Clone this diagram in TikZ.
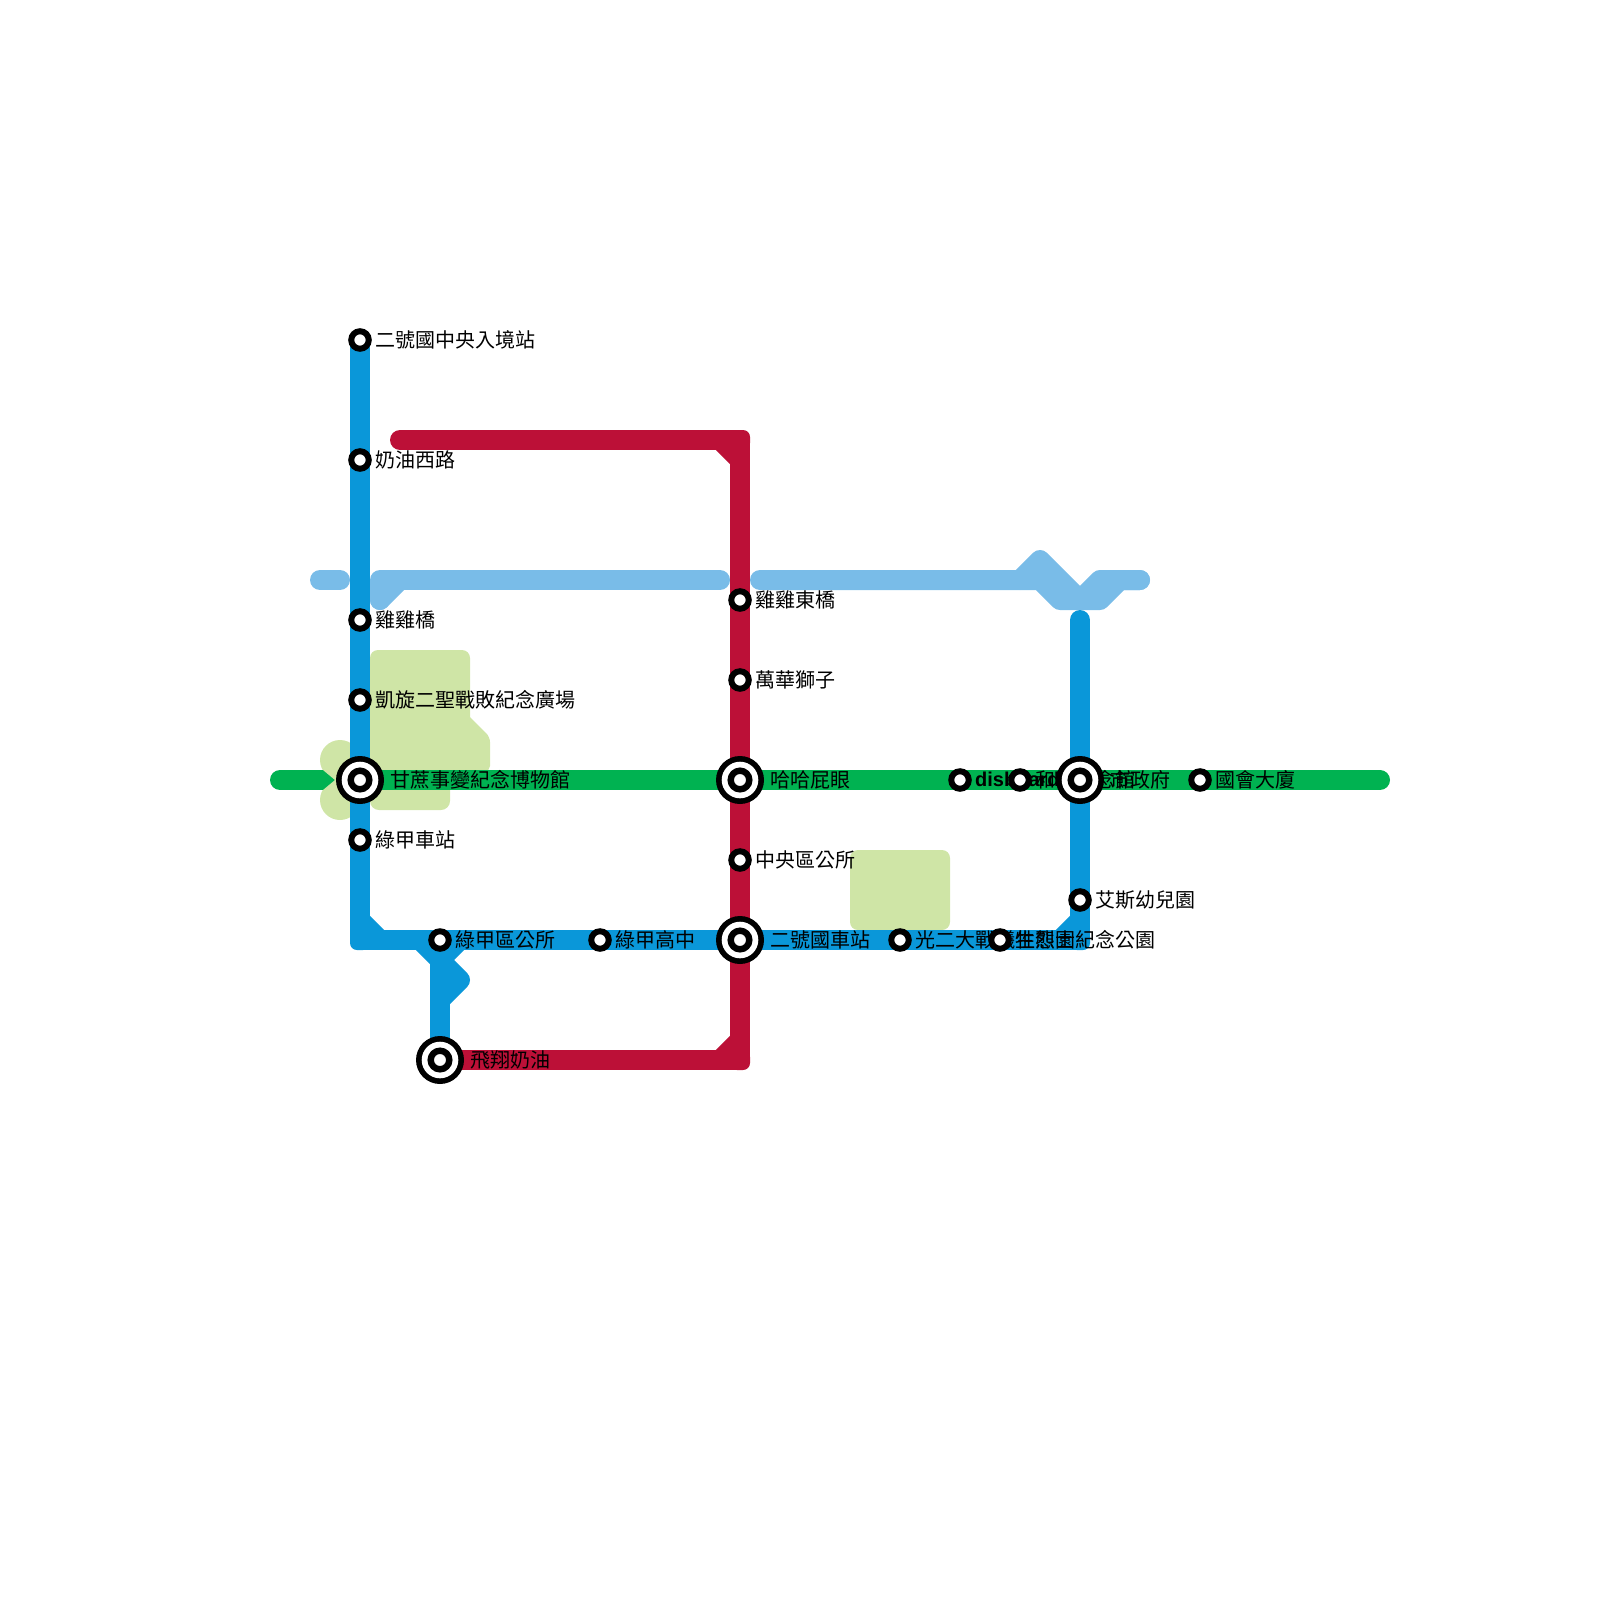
\documentclass[tikz,border=0pt]{standalone}
\usepackage{fontspec}
\setmainfont{Noto Sans CJK TC}
\newfontfamily\latinbold{Liberation Sans}
\definecolor{lineblue}{HTML}{0A97D9}
\definecolor{linered}{HTML}{BC1037}
\definecolor{linegreen}{HTML}{00B251}
\definecolor{linesky}{HTML}{79BCE8}
\definecolor{parkgreen}{HTML}{CFE5A6}
\tikzset{
  metro/.style={line width=20pt,line cap=round,line join=round},
  stub/.style={line width=20pt,line cap=butt,line join=miter},
  smallstn/.style={circle,fill=white,draw=black,line width=6pt,minimum size=17.5pt,inner sep=0pt,outer sep=0pt},
  lab/.style={anchor=base west,inner sep=0pt,font=\fontsize{20pt}{20pt}\selectfont,text=black},
}
\newcommand{\bigstn}[2]{%
  \node[circle,fill=black,minimum size=48pt,inner sep=0pt,outer sep=0pt] (#2o) at (#1) {};
  \node[circle,fill=white,minimum size=36.6pt,inner sep=0pt,outer sep=0pt] (#2w) at (#1) {};
  \node[smallstn,line width=6.4pt,minimum size=18.6pt] (#2i) at (#1) {};
}
\begin{document}
\begin{tikzpicture}[x=1pt,y=-1pt]
\useasboundingbox (0,0) rectangle (1600,1600);
% stations
\coordinate (s1) at (360,340);
\coordinate (s2) at (360,460);
\coordinate (s3) at (360,620);
\coordinate (s4) at (360,700);
\coordinate (s5) at (360,780);
\coordinate (s6) at (360,840);
\coordinate (s7) at (440,940);
\coordinate (s8) at (600,940);
\coordinate (s9) at (740,940);
\coordinate (s10) at (900,940);
\coordinate (s11) at (1000,940);
\coordinate (s12) at (1080,900);
\coordinate (s13) at (1080,780);
\coordinate (s14) at (960,780);
\coordinate (s15) at (1020,780);
\coordinate (s16) at (1200,780);
\coordinate (s17) at (740,600);
\coordinate (s18) at (740,680);
\coordinate (s19) at (740,780);
\coordinate (s20) at (740,860);
\coordinate (s21) at (440,1060);
% parks
\fill[parkgreen,rounded corners=8pt] (370,650) rectangle (470,786);
\fill[parkgreen,rounded corners=5pt] (450,697) -- (490,737) -- (490,771) -- (450,771) -- cycle;
\fill[parkgreen,rounded corners=9pt] (370,772) rectangle (450,810);
\fill[parkgreen] (340,760) circle (20);
\fill[parkgreen] (340,800) circle (20);
\fill[parkgreen,rounded corners=8pt] (850,850) rectangle (950,930);
% green line
\draw[metro,linegreen] (280,780) -- (1380,780);
\fill[parkgreen] (323,770) -- (335,780) -- (323,790) -- (345,790) -- (345,770) -- cycle;
% sky line
\draw[metro,linesky] (320,580) -- (340,580);
\draw[metro,linesky] (380,600) -- (380,580) -- (720,580);
\draw[metro,linesky] (400,580) -- (380,600);
\draw[metro,linesky] (760,580) -- (1040,580) -- (1060,600) -- (1100,600) -- (1120,580) -- (1140,580);
\draw[metro,linesky] (1020,580) -- (1040,560) -- (1080,600) -- (1100,580) -- (1140,580);
% red line
\fill[linered,rounded corners=7pt] (730,430) rectangle (750,450);
\fill[linered,rounded corners=7pt] (730,1050) rectangle (750,1070);
\draw[metro,linered] (400,440) -- (720,440);
\draw[stub,linered] (710,440) -- (740,440);
\draw[stub,linered] (720,440) -- (740,460);
\draw[stub,linered] (740,440) -- (740,1060);
\draw[stub,linered] (740,1040) -- (720,1060);
\draw[stub,linered] (740,1060) -- (s21);
% blue line
\fill[lineblue,rounded corners=7pt] (350,930) rectangle (370,950);
\fill[lineblue,rounded corners=7pt] (1070,930) rectangle (1090,950);
\draw[stub,lineblue] (s1) -- (360,940);
\draw[stub,lineblue] (360,920) -- (380,940);
\draw[stub,lineblue] (360,940) -- (1080,940);
\draw[stub,lineblue] (1080,920) -- (1060,940);
\draw[stub,lineblue] (1080,940) -- (s12);
\draw[metro,lineblue] (s12) -- (1080,620);
\draw[stub,lineblue] (420,940) -- (440,960);
\draw[stub,lineblue] (460,940) -- (440,960);
\draw[metro,lineblue] (440,960) -- (460,980) -- (440,1000);
\draw[stub,lineblue] (440,950) -- (s21);
% red over blue at the crossing
\draw[stub,linered] (s19) -- (s9);
\draw[stub,linered] (s9) -- (740,1000);
% labels
\node[lab] (l1) at (375,347.6) {二號國中央入境站};
\node[lab] (l2) at (375,467.6) {奶油西路};
\node[lab] (l3) at (375,627.6) {雞雞橋};
\node[lab] (l4) at (375,707.6) {凱旋二聖戰敗紀念廣場};
\node[lab] (l5) at (390,787.6) {甘蔗事變紀念博物館};
\node[lab] (l6) at (375,847.6) {綠甲車站};
\node[lab] (l7) at (455,947.6) {綠甲區公所};
\node[lab] (l8) at (615,947.6) {綠甲高中};
\node[lab] (l9) at (770,947.6) {二號國車站};
\node[lab] (l10) at (915,947.6) {光二大戰犧牲烈士紀念公園};
\node[lab] (l11) at (1015,947.6) {生態園};
\node[lab] (l12) at (1095,907.6) {艾斯幼兒園};
\node[lab] (l13) at (1110,787.6) {市政府};
\node[lab] (l14) at (975,786.5) {\latinbold\bfseries disboard};
\node[lab] (l15) at (1035,787.6) {和平紀念館};
\node[lab] (l16) at (1215,787.6) {國會大廈};
\node[lab] (l17) at (755,607.6) {雞雞東橋};
\node[lab] (l18) at (755,687.6) {萬華獅子};
\node[lab] (l19) at (770,787.6) {哈哈屁眼};
\node[lab] (l20) at (755,867.6) {中央區公所};
\node[lab] (l21) at (470,1067.6) {飛翔奶油};
% stations
\bigstn{s5}{b5}
\bigstn{s9}{b9}
\bigstn{s13}{b13}
\bigstn{s19}{b19}
\bigstn{s21}{b21}
\foreach \n in {1,2,3,4,6,7,8,10,11,12,14,15,16,17,18,20}{
  \node[smallstn] (st\n) at (s\n) {};
}
\end{tikzpicture}
\end{document}
